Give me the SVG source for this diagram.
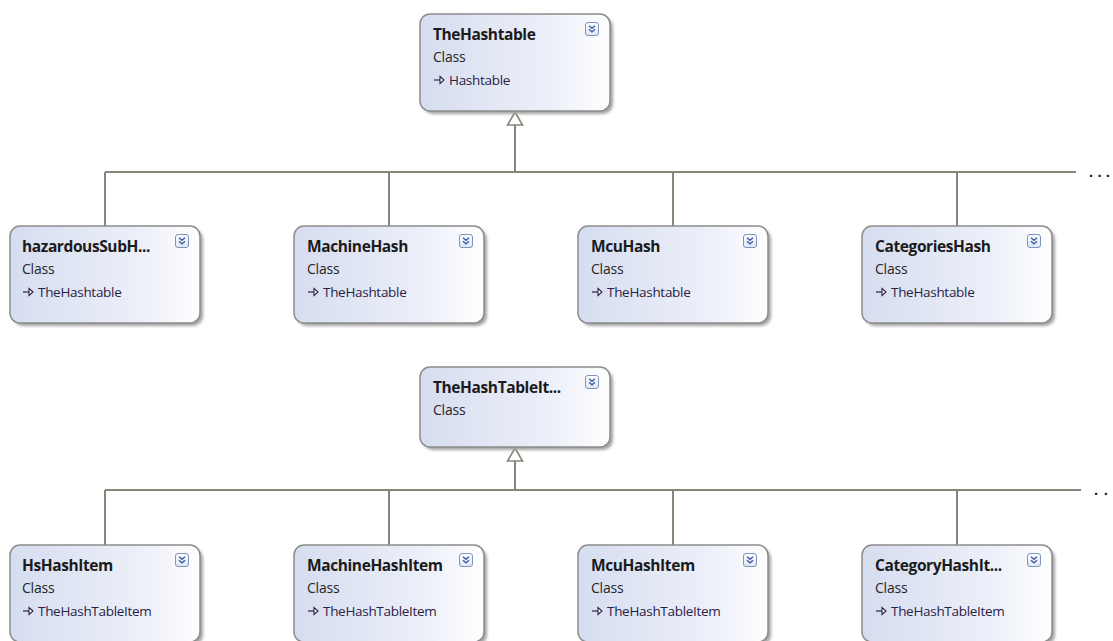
<svg xmlns="http://www.w3.org/2000/svg" width="1113" height="641" viewBox="0 0 1113 641">
  <style>
    .box { fill: url(#boxFill); stroke: #8c8c8c; stroke-width: 1.5; }
    .shadow { fill: #a3a3a3; filter: url(#soft); }
    .title { font-family: "Open Sans", "Noto Sans", sans-serif; font-weight: bold; font-size: 15.5px; fill: #1b1b1b; letter-spacing: -0.4px; }
    .kind { font-family: "Open Sans", "Noto Sans", sans-serif; font-size: 14px; fill: #262626; letter-spacing: -0.2px; }
    .base { font-family: "Open Sans", "Noto Sans", sans-serif; font-size: 13.5px; fill: #2a2245; letter-spacing: -0.3px; }
    .conn { stroke: #878779; stroke-width: 2; fill: none; }
    .gen { fill: #ffffff; stroke: #878779; stroke-width: 1.6; }
    .more { font-family: "Liberation Sans", sans-serif; font-weight: bold; font-size: 15px; fill: #1a1a2a; }
  </style>
  <defs>
    <linearGradient id="boxFill" x1="0" y1="0" x2="1" y2="0">
      <stop offset="0" stop-color="#d6ddf0"/>
      <stop offset="0.7" stop-color="#edf0f9"/>
      <stop offset="1" stop-color="#ffffff"/>
    </linearGradient>
    <linearGradient id="btnFill" x1="0" y1="0" x2="0" y2="1">
      <stop offset="0" stop-color="#ffffff"/>
      <stop offset="1" stop-color="#dfe6f4"/>
    </linearGradient>
    <filter id="soft" x="-10%" y="-10%" width="120%" height="120%">
      <feGaussianBlur stdDeviation="1.5"/>
    </filter>
    <!-- collapse/expand button in the header corner -->
    <g id="expander">
      <rect x="0.5" y="0.5" width="13" height="13" rx="2.5" fill="url(#btnFill)" stroke="#7f93bd" stroke-width="1"/>
      <path d="M4 3.8 L7 6.3 L10 3.8 M4 7.3 L7 9.8 L10 7.3" fill="none" stroke="#3b5ea8" stroke-width="1.4"/>
    </g>
    <!-- inheritance glyph in front of the base class name -->
    <g id="inherits">
      <path d="M0 0 H7" stroke="#2a2245" stroke-width="1.2"/>
      <path d="M6 -3.5 L10 0 L6 3.5 Z" fill="#ffffff" stroke="#2a2245" stroke-width="1.1"/>
    </g>
  </defs>

  <rect width="1113" height="641" fill="#ffffff"/>

  <!-- connectors -->
  <g id="connectors">
    <path class="conn" d="M515 125 V172 M105 172 H1076 M105 172 V226 M389 172 V226 M673 172 V226 M957 172 V226"/>
    <path class="gen" d="M515 112 L522.5 125 L507.5 125 Z"/>
    <path class="conn" d="M515 461 V490 M105 490 H1081 M105 490 V545 M389 490 V545 M673 490 V545 M957 490 V545"/>
    <path class="gen" d="M515 448 L522.5 461 L507.5 461 Z"/>
    <text class="more" x="1089" y="177" textLength="21" lengthAdjust="spacing">...</text>
    <text class="more" x="1094" y="495" textLength="14" lengthAdjust="spacing">..</text>
  </g>

  <!-- base classes -->
  <g id="TheHashtable">
    <rect class="shadow" x="423" y="17" width="190" height="97" rx="10"/>
    <rect class="box" x="420" y="14" width="190" height="97" rx="10"/>
    <use href="#expander" x="585" y="22"/>
    <text class="title" x="433" y="40">TheHashtable</text>
    <text class="kind" x="433" y="62">Class</text>
    <use href="#inherits" x="434" y="80"/>
    <text class="base" x="449" y="85">Hashtable</text>
  </g>

  <g id="TheHashTableItem">
    <rect class="shadow" x="423" y="370" width="190" height="80" rx="10"/>
    <rect class="box" x="420" y="367" width="190" height="80" rx="10"/>
    <use href="#expander" x="585" y="375"/>
    <text class="title" x="433" y="393">TheHashTableIt...</text>
    <text class="kind" x="433" y="415">Class</text>
  </g>

  <!-- subclasses of TheHashtable -->
  <g id="hazardousSubHash">
    <rect class="shadow" x="13" y="229" width="190" height="97" rx="10"/>
    <rect class="box" x="10" y="226" width="190" height="97" rx="10"/>
    <use href="#expander" x="175" y="234"/>
    <text class="title" x="22" y="252">hazardousSubH...</text>
    <text class="kind" x="22" y="274">Class</text>
    <use href="#inherits" x="23" y="292"/>
    <text class="base" x="38" y="297">TheHashtable</text>
  </g>

  <g id="MachineHash">
    <rect class="shadow" x="297" y="229" width="190" height="97" rx="10"/>
    <rect class="box" x="294" y="226" width="190" height="97" rx="10"/>
    <use href="#expander" x="459" y="234"/>
    <text class="title" x="307" y="252">MachineHash</text>
    <text class="kind" x="307" y="274">Class</text>
    <use href="#inherits" x="308" y="292"/>
    <text class="base" x="323" y="297">TheHashtable</text>
  </g>

  <g id="McuHash">
    <rect class="shadow" x="581" y="229" width="190" height="97" rx="10"/>
    <rect class="box" x="578" y="226" width="190" height="97" rx="10"/>
    <use href="#expander" x="743" y="234"/>
    <text class="title" x="591" y="252">McuHash</text>
    <text class="kind" x="591" y="274">Class</text>
    <use href="#inherits" x="592" y="292"/>
    <text class="base" x="607" y="297">TheHashtable</text>
  </g>

  <g id="CategoriesHash">
    <rect class="shadow" x="865" y="229" width="190" height="97" rx="10"/>
    <rect class="box" x="862" y="226" width="190" height="97" rx="10"/>
    <use href="#expander" x="1027" y="234"/>
    <text class="title" x="875" y="252">CategoriesHash</text>
    <text class="kind" x="875" y="274">Class</text>
    <use href="#inherits" x="876" y="292"/>
    <text class="base" x="891" y="297">TheHashtable</text>
  </g>

  <!-- subclasses of TheHashTableItem -->
  <g id="HsHashItem">
    <rect class="shadow" x="13" y="548" width="190" height="97" rx="10"/>
    <rect class="box" x="10" y="545" width="190" height="97" rx="10"/>
    <use href="#expander" x="175" y="553"/>
    <text class="title" x="22" y="571">HsHashItem</text>
    <text class="kind" x="22" y="593">Class</text>
    <use href="#inherits" x="23" y="611"/>
    <text class="base" x="38" y="616">TheHashTableItem</text>
  </g>

  <g id="MachineHashItem">
    <rect class="shadow" x="297" y="548" width="190" height="97" rx="10"/>
    <rect class="box" x="294" y="545" width="190" height="97" rx="10"/>
    <use href="#expander" x="459" y="553"/>
    <text class="title" x="307" y="571">MachineHashItem</text>
    <text class="kind" x="307" y="593">Class</text>
    <use href="#inherits" x="308" y="611"/>
    <text class="base" x="323" y="616">TheHashTableItem</text>
  </g>

  <g id="McuHashItem">
    <rect class="shadow" x="581" y="548" width="190" height="97" rx="10"/>
    <rect class="box" x="578" y="545" width="190" height="97" rx="10"/>
    <use href="#expander" x="743" y="553"/>
    <text class="title" x="591" y="571">McuHashItem</text>
    <text class="kind" x="591" y="593">Class</text>
    <use href="#inherits" x="592" y="611"/>
    <text class="base" x="607" y="616">TheHashTableItem</text>
  </g>

  <g id="CategoryHashItem">
    <rect class="shadow" x="865" y="548" width="190" height="97" rx="10"/>
    <rect class="box" x="862" y="545" width="190" height="97" rx="10"/>
    <use href="#expander" x="1027" y="553"/>
    <text class="title" x="875" y="571">CategoryHashIt...</text>
    <text class="kind" x="875" y="593">Class</text>
    <use href="#inherits" x="876" y="611"/>
    <text class="base" x="891" y="616">TheHashTableItem</text>
  </g>
</svg>
